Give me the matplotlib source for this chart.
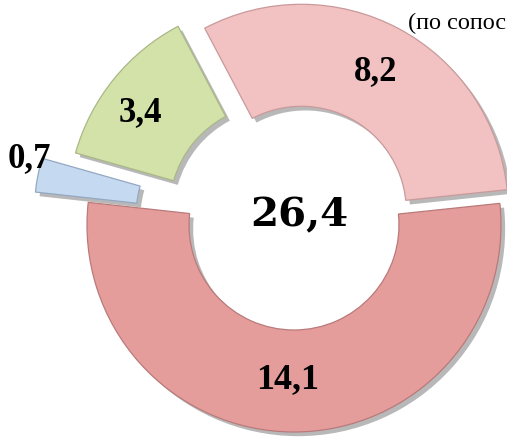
import numpy as np
import matplotlib
matplotlib.use("Agg")
import matplotlib.pyplot as plt
import matplotlib.patheffects as pe

# data (counter-clockwise order, starting at the right)
values = [8.2, 3.4, 0.7, 14.1]
labels = ["8,2", "3,4", "0,7", "14,1"]
total_label = "26,4"
colors = ["#F2C1C2", "#D3E2A8", "#C5D9F0", "#E59D9C"]
edge_colors = ["#C99A9B", "#A9B887", "#93A8C2", "#B97A7A"]
explode_frac = [0.075, 0.12, 0.26, 0.0]
note = "(по сопос"

W, H = 507, 437
fig = plt.figure(figsize=(W / 100, H / 100), dpi=100)
ax = fig.add_axes([0, 0, 1, 1])

C = (294, 212)
R = 207
ring = 102

wedges, _ = ax.pie(values, startangle=6, counterclock=True, colors=colors,
                   explode=[e * R for e in explode_frac], radius=R, center=C,
                   wedgeprops=dict(width=ring, linewidth=0.9))
for w, ec in zip(wedges, edge_colors):
    w.set_edgecolor(ec)
    w.set_path_effects([pe.SimplePatchShadow(offset=(3, -3), shadow_rgbFace="#000000", alpha=0.28),
                        pe.Normal()])

ax.set_xlim(0, W)
ax.set_ylim(0, H)
ax.set_aspect("auto")
ax.axis("off")

# label placement: (radius, angle offset in degrees, fontsize)
place = {"8,2": (161, 0.6, 25), "3,4": (167, 2.5, 25),
         "0,7": (220, -4.5, 25), "14,1": (152, -2.4, 26)}
for w, lab in zip(wedges, labels):
    rr, dang, fs = place[lab]
    mid = (w.theta1 + w.theta2) / 2
    if lab == "0,7":
        mid = 169.0
    ang = np.deg2rad(mid + dang)
    cx, cy = w.center
    ax.text(cx + rr * np.cos(ang), cy + rr * np.sin(ang) - 3, lab,
            ha="center", va="center", fontsize=fs, fontweight="bold",
            family="Liberation Serif", color="black")

ax.text(C[0] + 5, C[1] + 10, total_label, ha="center", va="center", fontsize=29,
        fontweight="bold", family="DejaVu Serif", color="black")

ax.text(506, 414, note, ha="right", va="center", fontsize=17.5,
        family="Liberation Serif", color="black")

fig.savefig("out.png", dpi=100)
